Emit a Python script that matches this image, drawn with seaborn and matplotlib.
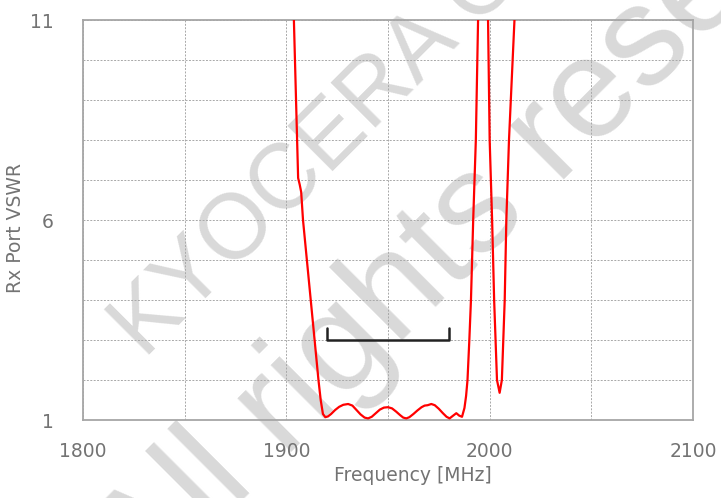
import matplotlib
matplotlib.use("Agg")
import matplotlib.pyplot as plt
import seaborn as sns

# Rx port VSWR curve
freq = [1903.4, 1905.8, 1906.6, 1907.3, 1908.2, 1910.1, 1912.0, 1913.9,
        1915.8, 1916.9, 1918.0, 1919.2, 1920.5, 1922, 1924, 1926, 1928,
        1930.4, 1932.5, 1934.5, 1936.5, 1938.5, 1940.2, 1942, 1944, 1946,
        1948, 1950, 1952, 1954, 1956, 1957.5, 1959, 1960.5, 1962.5, 1964.5,
        1966.5, 1968, 1969.5, 1971.3, 1973, 1975, 1977, 1978.8, 1980.3,
        1981.8, 1983.6, 1985, 1986.4, 1987.6, 1988.4, 1989.1,
        1990.0, 1990.8, 1991.9, 1993.2, 1994.3, 1996.7, 1999.2, 2000.0,
        2001.2, 2002.2, 2003.6, 2004.9, 2006.0, 2007.4,
        2008.2, 2009.5, 2011.3, 2012.2, 2012.9]
vswr = [11.6, 7.05, 6.88, 6.7, 6.0, 5.0, 4.0, 3.0,
        2.0, 1.5, 1.15, 1.07, 1.09, 1.15, 1.25, 1.33, 1.38,
        1.40, 1.36, 1.25, 1.14, 1.06, 1.04, 1.08, 1.17, 1.26,
        1.31, 1.32, 1.29, 1.21, 1.12, 1.06, 1.04, 1.07, 1.15, 1.24,
        1.32, 1.36, 1.37, 1.40, 1.37, 1.28, 1.17, 1.08, 1.04,
        1.10, 1.17, 1.11, 1.08, 1.3, 1.6, 2.0,
        3.0, 4.0, 6.0, 8.0, 11.0, 14.0, 11.0, 8.0,
        6.0, 4.0, 2.0, 1.68, 2.0, 4.0,
        6.0, 8.0, 10.0, 11.0, 11.8]

# passband marker
band_x = [1920, 1920, 1980, 1980]
band_y = [3.3, 3.0, 3.0, 3.3]

x_ticks = [1800, 1900, 2000, 2100]
y_ticks = [1, 6, 11]

sns.set_style("white")
plt.rcParams["font.family"] = ["DejaVu Sans"]

fig = plt.figure(figsize=(7.21, 4.98), dpi=100)
ax = fig.add_axes([83 / 721, 1 - 420 / 498, 610 / 721, 400 / 498])

gray_txt = "#737373"
wm = "#d9d9d9"

# watermark, behind the curve
ax.text(145 / 721, 1 - 360 / 498, "KYOCERA Corporation", transform=fig.transFigure,
        rotation=45, rotation_mode="anchor", ha="left", va="baseline",
        fontsize=66, color=wm, family="Liberation Sans", zorder=0.1, clip_on=False)
ax.text(146 / 721, 1 - 598 / 498, "All rights reserved", transform=fig.transFigure,
        rotation=45, rotation_mode="anchor", ha="left", va="baseline",
        fontsize=102, color=wm, family="Liberation Sans", zorder=0.1, clip_on=False)
ax.patch.set_alpha(0)

sns.lineplot(x=freq, y=vswr, ax=ax, color="#ff0000", linewidth=1.6, zorder=3)
sns.lineplot(x=band_x, y=band_y, ax=ax, color="#222222", linewidth=1.8,
             sort=False, estimator=None, zorder=3)

ax.set_xlim(1800, 2100)
ax.set_ylim(1, 11)
ax.set_xticks(x_ticks)
ax.set_yticks(y_ticks)
ax.set_xticks(range(1850, 2100, 100), minor=True)
ax.set_yticks(range(2, 11), minor=True)
ax.grid(True, which="both", color="#a8a8a8", linestyle=(0, (2, 1.5)), linewidth=0.7)
ax.set_axisbelow(True)

ax.tick_params(axis="both", which="both", length=0, labelsize=13.5, labelcolor=gray_txt)
ax.tick_params(axis="y", pad=21)
ax.tick_params(axis="x", pad=16)

for s in ax.spines.values():
    s.set_visible(True)
    s.set_color("#a6a6a6")
    s.set_linewidth(1.3)

ax.set_xlabel("Frequency [MHz]", fontsize=13.5, color=gray_txt)
ax.set_ylabel("Rx Port VSWR", fontsize=13.5, color=gray_txt)
ax.xaxis.set_label_coords(0.541, -0.115)
ax.yaxis.set_label_coords(-0.095, 0.48)

fig.savefig("out.png", dpi=100)
